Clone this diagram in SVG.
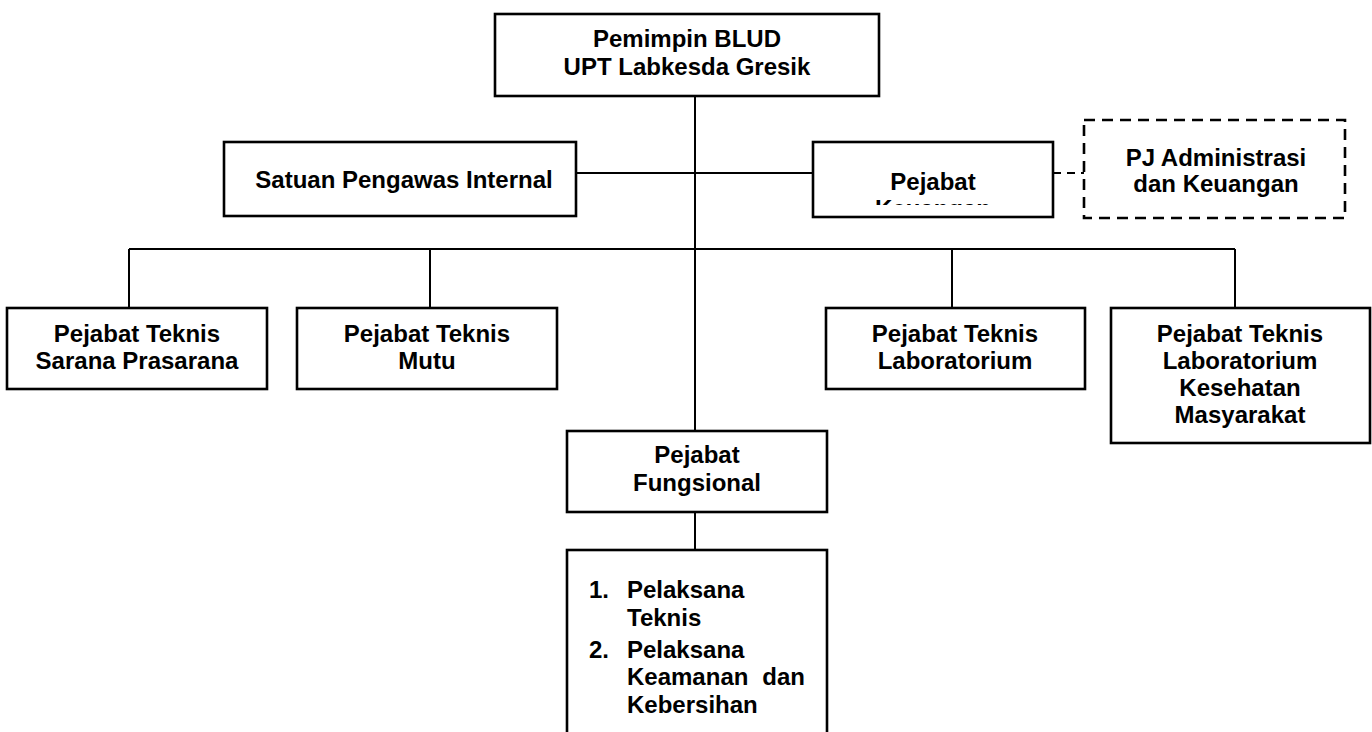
<svg xmlns="http://www.w3.org/2000/svg" width="1372" height="732" viewBox="0 0 1372 732">
<style>
.box{fill:#fff;stroke:#000;stroke-width:2.6}
.dbox{fill:#fff;stroke:#000;stroke-width:2.6;stroke-dasharray:11 7}
.ln{stroke:#000;stroke-width:2;fill:none}
.dln{stroke:#000;stroke-width:2;fill:none;stroke-dasharray:8 6}
text{font-family:"Liberation Sans",Arial,sans-serif;font-weight:bold;font-size:24px;fill:#000}
.c{text-anchor:middle}
</style>
<defs>
<clipPath id="clipK"><rect x="813" y="142" width="240" height="63"/></clipPath>
</defs>
<rect width="1372" height="732" fill="#fff"/>
<g id="connectors">
<line class="ln" x1="695" y1="96" x2="695" y2="431"/>
<line class="ln" x1="695" y1="512" x2="695" y2="550"/>
<line class="ln" x1="576" y1="173" x2="813" y2="173"/>
<line class="dln" x1="1053" y1="173" x2="1084" y2="173"/>
<line class="ln" x1="129" y1="249" x2="1235" y2="249"/>
<line class="ln" x1="129" y1="249" x2="129" y2="308"/>
<line class="ln" x1="430" y1="249" x2="430" y2="308"/>
<line class="ln" x1="952" y1="249" x2="952" y2="308"/>
<line class="ln" x1="1235" y1="249" x2="1235" y2="308"/>
</g>
<g id="pemimpin">
<rect class="box" x="495" y="14" width="384" height="82"/>
<text class="c" x="687" y="47">Pemimpin BLUD</text>
<text class="c" x="687" y="75">UPT Labkesda Gresik</text>
</g>
<g id="spi">
<rect class="box" x="224" y="142" width="352" height="74"/>
<text class="c" x="404" y="188">Satuan Pengawas Internal</text>
</g>
<g id="keuangan">
<rect class="box" x="813" y="142" width="240" height="75"/>
<text class="c" x="933" y="190">Pejabat</text>
<text class="c" x="933" y="217" clip-path="url(#clipK)">Keuangan</text>
</g>
<g id="pjadmin">
<rect class="dbox" x="1084" y="120" width="261" height="98"/>
<text class="c" x="1216" y="166">PJ Administrasi</text>
<text class="c" x="1216" y="192">dan Keuangan</text>
</g>
<g id="sarana">
<rect class="box" x="7" y="308" width="260" height="81"/>
<text class="c" x="137" y="342">Pejabat Teknis</text>
<text class="c" x="137" y="369">Sarana Prasarana</text>
</g>
<g id="mutu">
<rect class="box" x="297" y="308" width="260" height="81"/>
<text class="c" x="427" y="342">Pejabat Teknis</text>
<text class="c" x="427" y="369">Mutu</text>
</g>
<g id="lab">
<rect class="box" x="826" y="308" width="259" height="81"/>
<text class="c" x="955" y="342">Pejabat Teknis</text>
<text class="c" x="955" y="369">Laboratorium</text>
</g>
<g id="labkesmas">
<rect class="box" x="1111" y="308" width="259" height="135"/>
<text class="c" x="1240" y="342">Pejabat Teknis</text>
<text class="c" x="1240" y="369">Laboratorium</text>
<text class="c" x="1240" y="396">Kesehatan</text>
<text class="c" x="1240" y="423">Masyarakat</text>
</g>
<g id="fungsional">
<rect class="box" x="567" y="431" width="260" height="81"/>
<text class="c" x="697" y="463">Pejabat</text>
<text class="c" x="697" y="491">Fungsional</text>
</g>
<g id="pelaksana">
<rect class="box" x="567" y="550" width="260" height="200"/>
<text x="589" y="598">1.</text>
<text x="627" y="598">Pelaksana</text>
<text x="627" y="626">Teknis</text>
<text x="589" y="658">2.</text>
<text x="627" y="658">Pelaksana</text>
<text x="627" y="685">Keamanan</text>
<text x="805" y="685" text-anchor="end">dan</text>
<text x="627" y="713">Kebersihan</text>
</g>
</svg>
